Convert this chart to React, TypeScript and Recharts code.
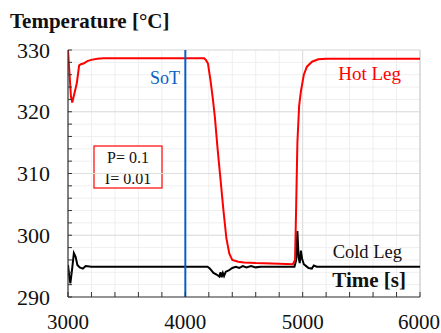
import React from "react";
import {
  LineChart,
  Line,
  XAxis,
  YAxis,
  CartesianGrid,
  ReferenceLine,
} from "recharts";

// hot leg temperature (red)
const hotTime = [
  3000, 3010, 3025, 3036, 3055, 3075, 3095, 3110, 3132, 3165, 3198, 3250, 3300,
  4160, 4175, 4193, 4215, 4235, 4252, 4275, 4300, 4325, 4350, 4375, 4400, 4450,
  4500, 4600, 4800, 4916, 4935, 4945, 4955, 4970, 4985, 5010, 5036, 5080, 5133,
  5200, 6000,
];
const hotTemp = [
  330, 327, 322.5, 321.5, 323, 324.6, 327.5, 327.7, 327.8, 328.2, 328.4, 328.6,
  328.65, 328.65, 328.4, 327.8, 325, 322, 319.1, 314, 309, 304, 299.5, 297, 296,
  295.7, 295.6, 295.5, 295.4, 295.3, 296, 305, 315, 321, 323.3, 326, 327.3,
  328.1, 328.5, 328.6, 328.6,
];

// cold leg temperature (black)
const coldTime = [
  3000, 3010, 3020, 3035, 3050, 3065, 3080, 3100, 3127, 3150, 3200, 4190, 4210,
  4240, 4270, 4290, 4300, 4310, 4320, 4330, 4345, 4370, 4400, 4430, 4460, 4490,
  4520, 4560, 4600, 4640, 4930, 4945, 4955, 4965, 4975, 4985, 4995, 5010, 5030,
  5050, 5078, 5095, 5120, 6000,
];
const coldTemp = [
  295.2, 293.5, 292.2, 294.5, 297.1, 296.5, 295.2, 294.8, 294.6, 295.0, 294.9,
  294.9, 294.6, 293.9, 293.6, 293.3, 294.0, 293.2, 293.9, 293.4, 294.1, 294.3,
  294.7, 294.9, 294.7, 295.0, 294.8, 295.0, 294.8, 294.9, 294.9, 296, 300.7,
  296.5, 295.5, 297.5, 296.2, 295.3, 295.0, 294.7, 294.6, 295.1, 294.9, 294.9,
];

const xTicks = [
  3000, 3200, 3400, 3600, 3800, 4000, 4200, 4400, 4600, 4800, 5000, 5200, 5400,
  5600, 5800, 6000,
];
const xLabels = [3000, 4000, 5000, 6000];
const yTicks = [
  290, 292, 294, 296, 298, 300, 302, 304, 306, 308, 310, 312, 314, 316, 318,
  320, 322, 324, 326, 328, 330,
];
const yLabels = [290, 300, 310, 320, 330];
const yMajor = [300, 310, 320, 330];

const hotData = hotTime.map((t, i) => ({ t, T: hotTemp[i] }));
const coldData = coldTime.map((t, i) => ({ t, T: coldTemp[i] }));

const FONT = "'Liberation Serif', 'Times New Roman', serif";

const XTick = (props: any) => {
  const { x, y, payload } = props;
  const v = payload.value;
  return (
    <g>
      <line x1={x} x2={x} y1={y} y2={y - 5} stroke="#333" strokeWidth={1} />
      {xLabels.includes(v) && (
        <text x={v === 6000 ? x - 1 : x} y={y + 31.5} textAnchor="middle" fontSize={21} fill="#111" fontFamily={FONT}>
          {v}
        </text>
      )}
    </g>
  );
};

const YTick = (props: any) => {
  const { x, y, payload } = props;
  const v = payload.value;
  return (
    <g>
      <line x1={x} x2={x + 4} y1={y} y2={y} stroke="#333" strokeWidth={1} />
      {yLabels.includes(v) && (
        <text x={x - 18} y={y + 7.5} textAnchor="end" fontSize={22} fill="#111" fontFamily={FONT}>
          {v}
        </text>
      )}
    </g>
  );
};

export default function App() {
  return (
    <div
      style={{
        position: "absolute",
        left: 0,
        top: 0,
        width: 441,
        height: 333,
        background: "#fff",
        fontFamily: FONT,
      }}
    >
      <LineChart
        width={441}
        height={333}
        margin={{ top: 50, right: 21, bottom: 0, left: 0 }}
      >
        <CartesianGrid stroke="#efefef" strokeWidth={1} />
        {yMajor.map((v) => (
          <ReferenceLine key={v} y={v} stroke="#dddddd" strokeWidth={1} />
        ))}
        <ReferenceLine x={5000} stroke="#dddddd" strokeWidth={1} />
        <ReferenceLine x={6000} stroke="#d4d4d4" strokeWidth={1.5} />
        <XAxis
          type="number"
          dataKey="t"
          domain={[3000, 6000]}
          ticks={xTicks}
          interval={0}
          allowDataOverflow
          tick={<XTick />}
          tickLine={false}
          tickSize={0}
          tickMargin={0}
          height={36}
          axisLine={{ stroke: "#333", strokeWidth: 1.2 }}
        />
        <YAxis
          type="number"
          domain={[290, 330]}
          ticks={yTicks}
          interval={0}
          allowDataOverflow
          tick={<YTick />}
          tickLine={false}
          tickSize={0}
          tickMargin={0}
          width={68}
          axisLine={{ stroke: "#333", strokeWidth: 1.2 }}
        />
        <Line
          data={coldData}
          dataKey="T"
          type="linear"
          stroke="#000"
          strokeWidth={2}
          dot={false}
          isAnimationActive={false}
        />
        <Line
          data={hotData}
          dataKey="T"
          type="linear"
          stroke="#ff0000"
          strokeWidth={2}
          dot={false}
          isAnimationActive={false}
        />
        <ReferenceLine x={4000} stroke="#0a5fc4" strokeWidth={2} />
        <text x={10} y={27.5} fontSize={21} fontWeight="bold" fill="#111" fontFamily={FONT}>
          Temperature [°C]
        </text>
        <text x={406} y={287} textAnchor="end" fontSize={21} fontWeight="bold" fill="#111" fontFamily={FONT}>
          Time [s]
        </text>
        <text x={180} y={84} textAnchor="end" fontSize={18} fill="#0a5fc4" fontFamily={FONT}>
          SoT
        </text>
        <text x={401} y={79.5} textAnchor="end" fontSize={19} fill="#ff0000" fontFamily={FONT}>
          Hot Leg
        </text>
        <text x={402} y={258} textAnchor="end" fontSize={18.5} fill="#111" fontFamily={FONT}>
          Cold Leg
        </text>
        <rect x={94} y={146} width={68} height={42} fill="#fff" stroke="#ff0000" strokeWidth={1.2} />
        <text x={128} y={163} textAnchor="middle" fontSize={16} fill="#111" fontFamily={FONT}>
          P= 0.1
        </text>
        <text x={128} y={184} textAnchor="middle" fontSize={16} fill="#111" fontFamily={FONT}>
          I= 0.01
        </text>
      </LineChart>
    </div>
  );
}
